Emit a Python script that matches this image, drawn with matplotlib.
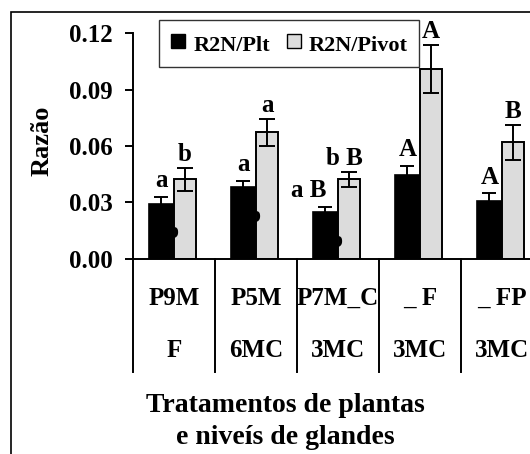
import matplotlib
matplotlib.use("Agg")
import matplotlib.pyplot as plt
from matplotlib.patches import Rectangle
from matplotlib.lines import Line2D
from matplotlib.transforms import blended_transform_factory, offset_copy
import numpy as np

plt.rcParams['font.family'] = ['Liberation Serif', 'DejaVu Serif']
plt.rcParams['font.weight'] = 'bold'

# Data
groups_top = ["P9M", "P5M", "P7M_C", "_ F", "_ FP"]
groups_bottom = ["F", "6MC", "3MC", "3MC", "3MC"]
plt_vals = [0.0289, 0.0381, 0.0246, 0.0445, 0.0308]
plt_err = [0.0040, 0.0032, 0.0030, 0.0050, 0.0040]
pivot_vals = [0.0422, 0.0673, 0.0422, 0.1009, 0.0621]
pivot_err = [0.0062, 0.0073, 0.0038, 0.0128, 0.0093]
plt_letters = ["a", "a", "a B", "A", "A"]
pivot_letters = ["b", "a", "b B", "A", "B"]
yticks = [0.00, 0.03, 0.06, 0.09, 0.12]

W, H = 530, 454
fig = plt.figure(figsize=(W / 100, H / 100), dpi=100)
ax = fig.add_axes([133 / W, (H - 258.5) / H, 410 / W, 225 / H])

x = np.arange(len(groups_top))
bw_plt, bw_piv = 0.31, 0.27
ax.bar(x - bw_plt, plt_vals, width=bw_plt, align='edge', color='black',
       edgecolor='black', linewidth=1.2, zorder=2)
ax.bar(x, pivot_vals, width=bw_piv, align='edge', color='#dcdcdc',
       edgecolor='black', linewidth=1.4, zorder=2)

xc_plt = x - bw_plt / 2
xc_piv = x + bw_piv / 2
ax.errorbar(xc_plt, plt_vals, yerr=plt_err, fmt='none', ecolor='black',
            elinewidth=1.4, capsize=4.7, capthick=1.4, zorder=3)
ax.errorbar(xc_piv, pivot_vals, yerr=pivot_err, fmt='none', ecolor='black',
            elinewidth=1.4, capsize=6.0, capthick=1.4, zorder=3)

# small stray glyphs sitting on the black bars
for xi, yv in zip(x, [0.0141, 0.0223, 0.0090]):
    ax.text(xi + 0.06, yv, "b", ha='right', va='center', fontsize=17,
            color='black', zorder=4)

# significance letters
shift_plt = [0, 0, -17, 0, 0]
shift_piv = [0, 0, -5, 0, 0]
for i in range(len(x)):
    t = offset_copy(ax.transData, fig=fig, x=shift_plt[i] * 0.72, y=7.0, units='points')
    ax.text(xc_plt[i], plt_vals[i] + plt_err[i], plt_letters[i], transform=t,
            ha='center', va='baseline', fontsize=18, zorder=4)
    t = offset_copy(ax.transData, fig=fig, x=shift_piv[i] * 0.72, y=5.0, units='points')
    ax.text(xc_piv[i], pivot_vals[i] + pivot_err[i], pivot_letters[i], transform=t,
            ha='center', va='baseline', fontsize=18, zorder=4)

ax.set_xlim(-0.5, 4.5)
ax.set_ylim(0, 0.12)
ax.set_yticks(yticks)
ax.set_yticklabels([f"{v:.2f}" for v in yticks], fontsize=18, fontweight='bold')
ax.tick_params(axis='y', direction='out', length=5.5, width=1.4, pad=9)
ax.set_xticks([])
for s in ['top', 'right']:
    ax.spines[s].set_visible(False)
for s in ['left', 'bottom']:
    ax.spines[s].set_linewidth(1.4)

# category separators and two-row labels beneath the axis
trans = blended_transform_factory(ax.transData, ax.transAxes)
for b in np.arange(-0.5, 4.6, 1.0):
    ax.plot([b, b], [0, -0.505], color='black', lw=1.4, transform=trans,
            clip_on=False)
for i in range(len(x)):
    ax.text(x[i], -0.176, groups_top[i], transform=trans, ha='center',
            va='center', fontsize=18)
    ax.text(x[i], -0.407, groups_bottom[i], transform=trans, ha='center',
            va='center', fontsize=18)

fig.text(42 / W, 1 - 141 / H, "Razão", rotation=90, ha='center', va='center',
         fontsize=19)
fig.text(285 / W, 1 - 405 / H, "Tratamentos de plantas", ha='center',
         va='center', fontsize=20)
fig.text(285 / W, 1 - 437 / H, "e niveís de glandes", ha='center',
         va='center', fontsize=20)

handles = [Line2D([], [], linestyle='none', marker='s', markersize=10.5,
                  markerfacecolor='black', markeredgecolor='black',
                  markeredgewidth=1.0),
           Line2D([], [], linestyle='none', marker='s', markersize=10.5,
                  markerfacecolor='#dcdcdc', markeredgecolor='black',
                  markeredgewidth=1.0)]
leg = fig.legend(handles, ["R2N/Plt", "R2N/Pivot"], loc='upper left',
                 bbox_to_anchor=(159 / W, 1 - 20 / H), ncol=2, fontsize=16,
                 frameon=True, fancybox=False, handlelength=0.75,
                 handleheight=1.3, handletextpad=0.3, columnspacing=0.7,
                 borderpad=0.5, borderaxespad=0)
leg.get_frame().set_edgecolor('black')
leg.get_frame().set_linewidth(1.0)

# outer frame
fig.patches.append(Rectangle((11 / W, -0.1), 1.2, 1 - 12 / H + 0.1,
                             transform=fig.transFigure, fill=False,
                             edgecolor='black', lw=1.2))

fig.savefig("out.png", dpi=100)
